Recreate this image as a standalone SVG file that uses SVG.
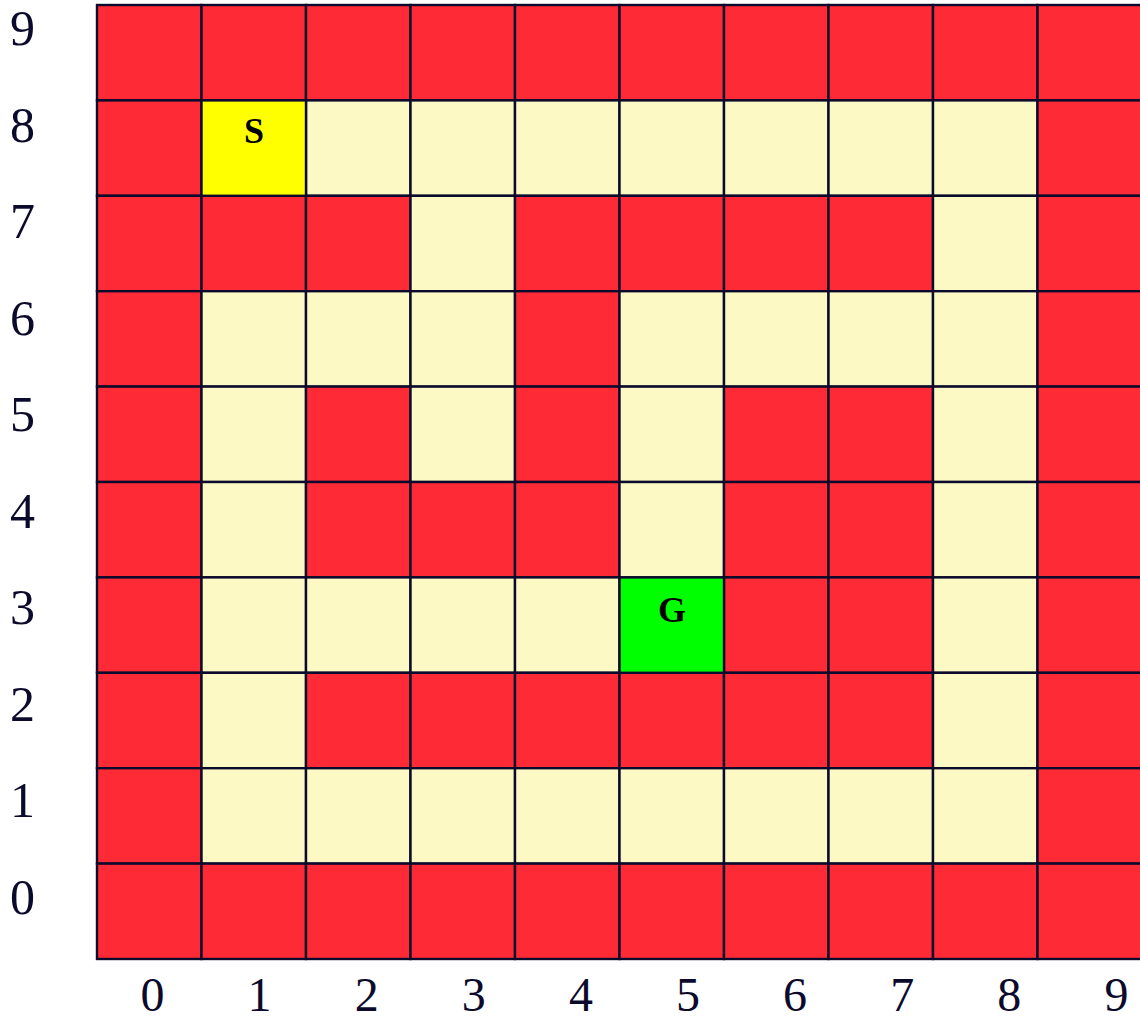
<svg xmlns="http://www.w3.org/2000/svg" width="1140" height="1022" viewBox="0 0 1140 1022">
<style>
.c{stroke:#0c0a2c;stroke-width:2.4}
.w{fill:#fe2a36}
.p{fill:#fcf9c4}
.s{fill:#ffff00}
.g{fill:#00ff00}
.lbl{font-family:"Liberation Serif","DejaVu Serif",serif;font-size:50px;fill:#0c0a2c;text-anchor:middle}
.xl{font-size:48px}
.mk{font-family:"Liberation Serif","DejaVu Serif",serif;font-size:36px;font-weight:bold;fill:#000;text-anchor:middle}
</style>
<rect width="1140" height="1022" fill="#fff"/>
<g id="grid">
<!-- row 9 -->
<rect class="c w" x="97" y="5" width="104.5" height="95.4"/>
<rect class="c w" x="201.5" y="5" width="104.5" height="95.4"/>
<rect class="c w" x="306" y="5" width="104.5" height="95.4"/>
<rect class="c w" x="410.5" y="5" width="104.5" height="95.4"/>
<rect class="c w" x="515" y="5" width="104.5" height="95.4"/>
<rect class="c w" x="619.5" y="5" width="104.5" height="95.4"/>
<rect class="c w" x="724" y="5" width="104.5" height="95.4"/>
<rect class="c w" x="828.5" y="5" width="104.5" height="95.4"/>
<rect class="c w" x="933" y="5" width="104.5" height="95.4"/>
<rect class="c w" x="1037.5" y="5" width="104.5" height="95.4"/>
<!-- row 8 -->
<rect class="c w" x="97" y="100.4" width="104.5" height="95.4"/>
<rect class="c p" x="306" y="100.4" width="104.5" height="95.4"/>
<rect class="c p" x="410.5" y="100.4" width="104.5" height="95.4"/>
<rect class="c p" x="515" y="100.4" width="104.5" height="95.4"/>
<rect class="c p" x="619.5" y="100.4" width="104.5" height="95.4"/>
<rect class="c p" x="724" y="100.4" width="104.5" height="95.4"/>
<rect class="c p" x="828.5" y="100.4" width="104.5" height="95.4"/>
<rect class="c p" x="933" y="100.4" width="104.5" height="95.4"/>
<rect class="c w" x="1037.5" y="100.4" width="104.5" height="95.4"/>
<!-- row 7 -->
<rect class="c w" x="97" y="195.8" width="104.5" height="95.4"/>
<rect class="c w" x="201.5" y="195.8" width="104.5" height="95.4"/>
<rect class="c w" x="306" y="195.8" width="104.5" height="95.4"/>
<rect class="c p" x="410.5" y="195.8" width="104.5" height="95.4"/>
<rect class="c w" x="515" y="195.8" width="104.5" height="95.4"/>
<rect class="c w" x="619.5" y="195.8" width="104.5" height="95.4"/>
<rect class="c w" x="724" y="195.8" width="104.5" height="95.4"/>
<rect class="c w" x="828.5" y="195.8" width="104.5" height="95.4"/>
<rect class="c p" x="933" y="195.8" width="104.5" height="95.4"/>
<rect class="c w" x="1037.5" y="195.8" width="104.5" height="95.4"/>
<!-- row 6 -->
<rect class="c w" x="97" y="291.2" width="104.5" height="95.4"/>
<rect class="c p" x="201.5" y="291.2" width="104.5" height="95.4"/>
<rect class="c p" x="306" y="291.2" width="104.5" height="95.4"/>
<rect class="c p" x="410.5" y="291.2" width="104.5" height="95.4"/>
<rect class="c w" x="515" y="291.2" width="104.5" height="95.4"/>
<rect class="c p" x="619.5" y="291.2" width="104.5" height="95.4"/>
<rect class="c p" x="724" y="291.2" width="104.5" height="95.4"/>
<rect class="c p" x="828.5" y="291.2" width="104.5" height="95.4"/>
<rect class="c p" x="933" y="291.2" width="104.5" height="95.4"/>
<rect class="c w" x="1037.5" y="291.2" width="104.5" height="95.4"/>
<!-- row 5 -->
<rect class="c w" x="97" y="386.6" width="104.5" height="95.4"/>
<rect class="c p" x="201.5" y="386.6" width="104.5" height="95.4"/>
<rect class="c w" x="306" y="386.6" width="104.5" height="95.4"/>
<rect class="c p" x="410.5" y="386.6" width="104.5" height="95.4"/>
<rect class="c w" x="515" y="386.6" width="104.5" height="95.4"/>
<rect class="c p" x="619.5" y="386.6" width="104.5" height="95.4"/>
<rect class="c w" x="724" y="386.6" width="104.5" height="95.4"/>
<rect class="c w" x="828.5" y="386.6" width="104.5" height="95.4"/>
<rect class="c p" x="933" y="386.6" width="104.5" height="95.4"/>
<rect class="c w" x="1037.5" y="386.6" width="104.5" height="95.4"/>
<!-- row 4 -->
<rect class="c w" x="97" y="482" width="104.5" height="95.4"/>
<rect class="c p" x="201.5" y="482" width="104.5" height="95.4"/>
<rect class="c w" x="306" y="482" width="104.5" height="95.4"/>
<rect class="c w" x="410.5" y="482" width="104.5" height="95.4"/>
<rect class="c w" x="515" y="482" width="104.5" height="95.4"/>
<rect class="c p" x="619.5" y="482" width="104.5" height="95.4"/>
<rect class="c w" x="724" y="482" width="104.5" height="95.4"/>
<rect class="c w" x="828.5" y="482" width="104.5" height="95.4"/>
<rect class="c p" x="933" y="482" width="104.5" height="95.4"/>
<rect class="c w" x="1037.5" y="482" width="104.5" height="95.4"/>
<!-- row 3 -->
<rect class="c w" x="97" y="577.4" width="104.5" height="95.4"/>
<rect class="c p" x="201.5" y="577.4" width="104.5" height="95.4"/>
<rect class="c p" x="306" y="577.4" width="104.5" height="95.4"/>
<rect class="c p" x="410.5" y="577.4" width="104.5" height="95.4"/>
<rect class="c p" x="515" y="577.4" width="104.5" height="95.4"/>
<rect class="c w" x="724" y="577.4" width="104.5" height="95.4"/>
<rect class="c w" x="828.5" y="577.4" width="104.5" height="95.4"/>
<rect class="c p" x="933" y="577.4" width="104.5" height="95.4"/>
<rect class="c w" x="1037.5" y="577.4" width="104.5" height="95.4"/>
<!-- row 2 -->
<rect class="c w" x="97" y="672.8" width="104.5" height="95.4"/>
<rect class="c p" x="201.5" y="672.8" width="104.5" height="95.4"/>
<rect class="c w" x="306" y="672.8" width="104.5" height="95.4"/>
<rect class="c w" x="410.5" y="672.8" width="104.5" height="95.4"/>
<rect class="c w" x="515" y="672.8" width="104.5" height="95.4"/>
<rect class="c w" x="619.5" y="672.8" width="104.5" height="95.4"/>
<rect class="c w" x="724" y="672.8" width="104.5" height="95.4"/>
<rect class="c w" x="828.5" y="672.8" width="104.5" height="95.4"/>
<rect class="c p" x="933" y="672.8" width="104.5" height="95.4"/>
<rect class="c w" x="1037.5" y="672.8" width="104.5" height="95.4"/>
<!-- row 1 -->
<rect class="c w" x="97" y="768.2" width="104.5" height="95.4"/>
<rect class="c p" x="201.5" y="768.2" width="104.5" height="95.4"/>
<rect class="c p" x="306" y="768.2" width="104.5" height="95.4"/>
<rect class="c p" x="410.5" y="768.2" width="104.5" height="95.4"/>
<rect class="c p" x="515" y="768.2" width="104.5" height="95.4"/>
<rect class="c p" x="619.5" y="768.2" width="104.5" height="95.4"/>
<rect class="c p" x="724" y="768.2" width="104.5" height="95.4"/>
<rect class="c p" x="828.5" y="768.2" width="104.5" height="95.4"/>
<rect class="c p" x="933" y="768.2" width="104.5" height="95.4"/>
<rect class="c w" x="1037.5" y="768.2" width="104.5" height="95.4"/>
<!-- row 0 -->
<rect class="c w" x="97" y="863.6" width="104.5" height="95.4"/>
<rect class="c w" x="201.5" y="863.6" width="104.5" height="95.4"/>
<rect class="c w" x="306" y="863.6" width="104.5" height="95.4"/>
<rect class="c w" x="410.5" y="863.6" width="104.5" height="95.4"/>
<rect class="c w" x="515" y="863.6" width="104.5" height="95.4"/>
<rect class="c w" x="619.5" y="863.6" width="104.5" height="95.4"/>
<rect class="c w" x="724" y="863.6" width="104.5" height="95.4"/>
<rect class="c w" x="828.5" y="863.6" width="104.5" height="95.4"/>
<rect class="c w" x="933" y="863.6" width="104.5" height="95.4"/>
<rect class="c w" x="1037.5" y="863.6" width="104.5" height="95.4"/>
</g>
<g id="start">
<rect class="c s" x="201.5" y="100.4" width="104.5" height="95.4"/>
<text class="mk" x="254" y="143">S</text>
</g>
<g id="goal">
<rect class="c g" x="619.5" y="577.4" width="104.5" height="95.4"/>
<text class="mk" x="672" y="622">G</text>
</g>
<g id="connectors"></g>
<g id="y-axis">
<text class="lbl" x="22.5" y="45">9</text>
<text class="lbl" x="22.5" y="141.5">8</text>
<text class="lbl" x="22.5" y="238">7</text>
<text class="lbl" x="22.5" y="334.5">6</text>
<text class="lbl" x="22.5" y="431">5</text>
<text class="lbl" x="22.5" y="527.5">4</text>
<text class="lbl" x="22.5" y="624">3</text>
<text class="lbl" x="22.5" y="720.5">2</text>
<text class="lbl" x="22.5" y="817">1</text>
<text class="lbl" x="22.5" y="913.5">0</text>
</g>
<g id="x-axis">
<text class="lbl xl" x="152.5" y="1011">0</text>
<text class="lbl xl" x="259.6" y="1011">1</text>
<text class="lbl xl" x="366.7" y="1011">2</text>
<text class="lbl xl" x="473.8" y="1011">3</text>
<text class="lbl xl" x="580.9" y="1011">4</text>
<text class="lbl xl" x="688" y="1011">5</text>
<text class="lbl xl" x="795.1" y="1011">6</text>
<text class="lbl xl" x="902.2" y="1011">7</text>
<text class="lbl xl" x="1009.3" y="1011">8</text>
<text class="lbl xl" x="1116.4" y="1011">9</text>
</g>
</svg>
